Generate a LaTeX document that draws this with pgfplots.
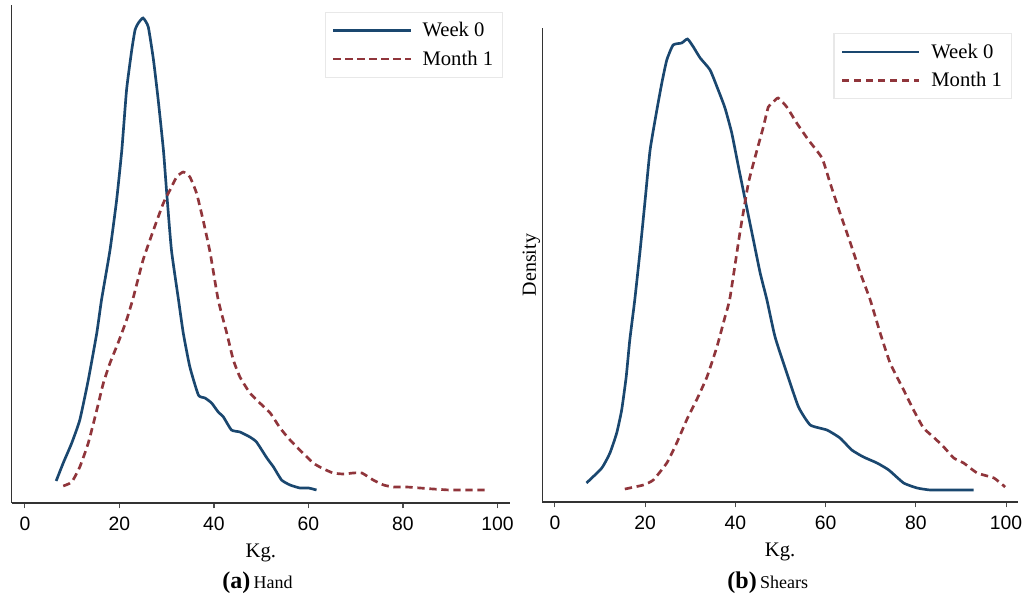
\documentclass[border=0pt]{standalone}
\usepackage{pgfplots}
\pgfplotsset{compat=1.18}
\usepackage{fontspec}
\setmainfont{Liberation Serif}
\newfontfamily\sansf{Liberation Sans}
\definecolor{wk}{HTML}{1A476F}
\definecolor{mo}{HTML}{90353B}
\pgfplotsset{
  dens/.style={
    scale only axis,
    axis lines=left,
    axis line style={-, black!80, line width=0.9pt},
    xmin=-2.8, xmax=102.65, ymin=0,
    xtick={0,20,40,60,80,100},
    ytick=\empty,
    tick align=outside,
    major tick length=4pt,
    every tick/.style={black!70, line width=0.8pt},
    /pgf/number format/assume math mode=true,
    tick label style={font=\sansf\fontsize{14.5}{17}\selectfont},
    xticklabel style={yshift=-3pt},
    xlabel={Kg.},
    xlabel style={font=\fontsize{15.5}{18}\selectfont, yshift=-3pt},
    legend cell align=left,
    legend style={draw=black!9, line width=0.8pt, font=\fontsize{15.5}{18}\selectfont,
      inner xsep=5pt, inner ysep=5.5pt, row sep=5pt},
    legend image code/.code={\draw[#1] (0pt,0pt) -- (58pt,0pt); \path (64pt,0pt);},
    wkst/.style={wk, line width=2pt, smooth, tension=0.3},
    most/.style={mo, line width=2pt, dash pattern=on 5.5pt off 3.5pt, smooth, tension=0.3},
  }
}
\begin{document}
\begin{tikzpicture}
\useasboundingbox (0,0) rectangle (771pt,450pt);
% Left panel: Hand
\begin{axis}[dens, at={(8.8pt,72.75pt)}, anchor=south west,
  width=373.7pt, height=373.5pt, ymax=498,
  legend style={at={(0.986,0.986)}, anchor=north east}]
\addplot[wkst] coordinates {
(6.6,22) (8.1,40) (9.9,60) (11.6,83) (13.4,123) (15.2,170) (16.2,203) (18.0,253)
(19.4,303) (20.5,353) (21.5,413) (22.6,453) (23.3,473) (24.0,480) (25.0,485)
(26.1,476) (27.2,443) (28.2,403) (29.3,353) (30.0,310) (31.0,253) (32.5,203)
(33.5,170) (34.9,136) (36.7,108) (38.1,105) (39.5,100) (40.9,91) (42.0,86)
(43.7,73) (45.5,71) (47.6,66) (49.0,61) (51.2,45) (52.6,36) (54.3,23) (56.1,18)
(58.2,15) (60.0,15) (61.7,13)
};
\addlegendentry{Week 0}
\addplot[most] coordinates {
(8.1,17) (9.9,21) (11.6,36) (13.4,60) (15.2,93) (16.6,120) (18.0,140) (19.7,160)
(21.5,183) (22.9,205) (25.0,243) (27.2,273) (29.3,300) (30.7,313) (32.1,326)
(33.5,331) (34.9,326) (36.3,310) (37.7,283) (39.2,250) (40.9,203) (42.7,170)
(44.1,143) (45.5,126) (47.6,110) (49.7,100) (51.9,90) (54.0,75) (56.1,63)
(58.6,51) (61.0,40) (62.8,35) (65.2,30) (67.4,29) (69.5,30) (71.3,30) (73.7,23)
(75.9,18) (78.0,16) (80.8,16) (83.6,15) (86.4,14) (89.9,13) (93.5,13) (97.4,13)
};
\addlegendentry{Month 1}
\end{axis}
% Right panel: Shears
\begin{axis}[dens, at={(406.7pt,73.5pt)}, anchor=south west,
  width=356.8pt, height=355.5pt, ymax=474,
  ylabel={Density},
  ylabel style={font=\fontsize{15}{18}\selectfont, yshift=-6pt},
  legend style={at={(0.987,0.989)}, anchor=north east}]
\addplot[wkst] coordinates {
(7.0,19) (10.4,34) (12.2,49) (13.7,69) (14.8,92) (15.8,125) (16.6,162) (17.7,202)
(18.9,252) (20.0,302) (21.1,352) (22.6,392) (23.7,419) (24.8,442) (26.2,457)
(28.1,459) (29.4,463) (30.7,455) (32.2,444) (34.4,432) (36.2,412) (37.7,394)
(39.2,369) (40.7,335) (42.5,295) (44.0,262) (45.5,229) (47.0,202) (48.8,165)
(51.4,129) (54.0,95) (56.6,77) (60.3,72) (63.2,64) (65.8,52) (68.4,45) (71.4,39)
(74.0,32) (77.3,19) (80.3,14) (83.2,12) (87.6,12) (92.8,12)
};
\addlegendentry{Week 0}
\addplot[most] coordinates {
(15.5,13) (19.6,17) (21.8,22) (24.8,39) (27.0,59) (29.2,82) (31.4,102) (33.7,125)
(35.9,155) (37.7,185) (38.8,204) (41.0,269) (42.9,319) (44.8,352) (46.2,375)
(47.3,395) (48.4,400) (49.5,404) (51.4,395) (53.6,379) (56.2,362) (59.2,344)
(61.0,319) (63.2,289) (65.5,259) (67.7,229) (69.9,202) (72.1,169) (74.3,139)
(77.3,112) (79.5,92) (81.7,74) (83.9,65) (86.2,55) (88.4,44) (90.6,39) (93.6,29)
(97.3,24) (99.8,15)
};
\addlegendentry{Month 1}
\end{axis}
\node[anchor=center, inner sep=0pt] at (193.1pt,12.75pt)
  {{\fontsize{18}{20}\selectfont\bfseries (a)}\ {\fontsize{13.5}{16}\selectfont Hand}};
\node[anchor=center, inner sep=0pt] at (575.8pt,12.75pt)
  {{\fontsize{18}{20}\selectfont\bfseries (b)}\ {\fontsize{13.5}{16}\selectfont Shears}};
\end{tikzpicture}
\end{document}
